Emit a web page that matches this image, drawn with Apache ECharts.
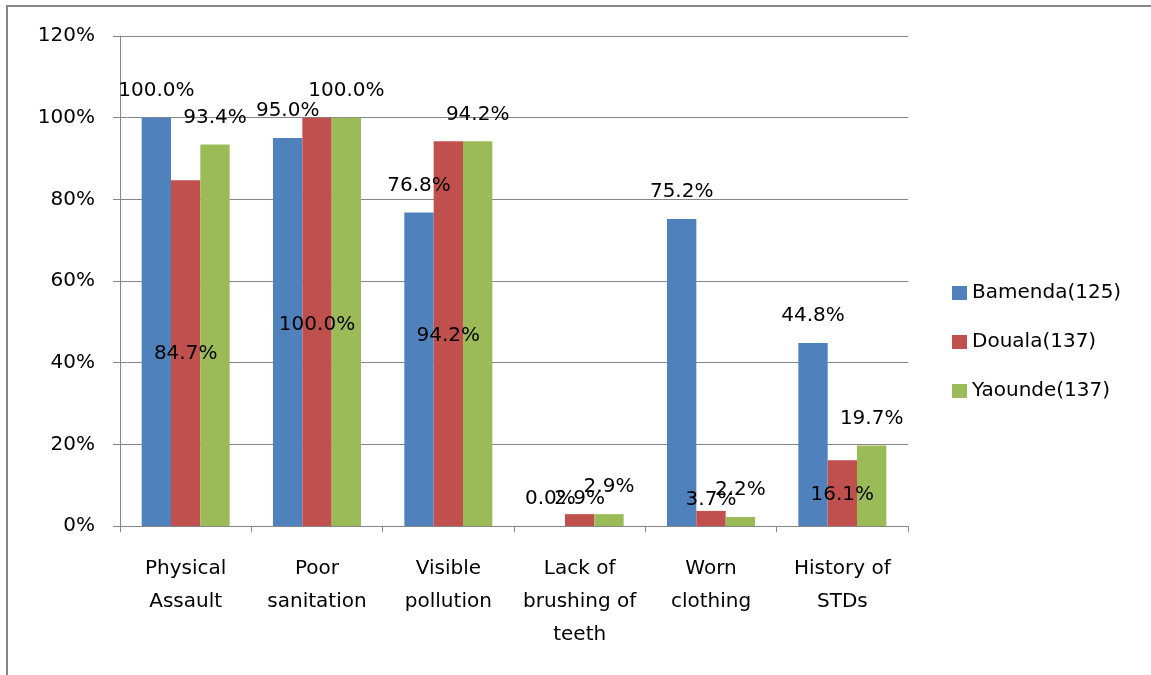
<!DOCTYPE html>
<html>
<head>
<meta charset="utf-8">
<script src="https://cdn.jsdelivr.net/npm/echarts@6/dist/echarts.min.js"></script>
<style>
html,body{margin:0;padding:0;background:#fff;}
#main{width:1151px;height:675px;}
</style>
</head>
<body>
<div id="main"></div>
<script>
var categories = ['Physical\nAssault', 'Poor\nsanitation', 'Visible\npollution', 'Lack of\nbrushing of\nteeth', 'Worn\nclothing', 'History of\nSTDs'];
var bamenda = [100.0, 95.0, 76.8, 0.0, 75.2, 44.8];
var douala = [84.7, 100.0, 94.2, 2.9, 3.7, 16.1];
var yaounde = [93.4, 100.0, 94.2, 2.9, 2.2, 19.7];
var seriesNames = ['Bamenda(125)', 'Douala(137)', 'Yaounde(137)'];
var yTicks = [0, 20, 40, 60, 80, 100, 120];
// the Douala labels sit lower than the bar tops in the original
var doualaLabelShift = [201, 234, 221, 12, 16, 62];

var mychart = echarts.init(document.getElementById('main'));
var font = 'DejaVu Sans';
var gridColor = '#868686';

function labelOf(shift) {
    return {
        show: true,
        position: 'top',
        distance: 17,
        color: '#000',
        fontFamily: font,
        fontSize: 20,
        lineHeight: 20,
        offset: [0, shift || 0],
        formatter: function (p) { return p.value.toFixed(1) + '%'; }
    };
}

var option = {
    animation: false,
    backgroundColor: '#fff',
    textStyle: {fontFamily: font},
    grid: {left: 120, right: 243, top: 36, bottom: 149},
    legend: {
        orient: 'vertical',
        left: 952,
        top: 283,
        padding: 0,
        itemWidth: 15,
        itemHeight: 14,
        itemGap: 29,
        icon: 'rect',
        data: seriesNames,
        textStyle: {fontFamily: font, fontSize: 20, color: '#000'}
    },
    xAxis: {
        type: 'category',
        data: categories,
        axisLine: {lineStyle: {color: gridColor, width: 1}},
        axisTick: {show: true, length: 6, lineStyle: {color: gridColor}},
        axisLabel: {
            interval: 0,
            margin: 26,
            color: '#000',
            fontFamily: font,
            fontSize: 20,
            lineHeight: 33,
            align: 'center'
        }
    },
    yAxis: {
        type: 'value',
        min: yTicks[0],
        max: yTicks[yTicks.length - 1],
        interval: 20,
        axisLine: {show: true, lineStyle: {color: gridColor, width: 1}},
        axisTick: {show: true, length: 7, lineStyle: {color: gridColor}},
        splitLine: {lineStyle: {color: gridColor, width: 1}},
        axisLabel: {
            margin: 25,
            color: '#000',
            fontFamily: font,
            fontSize: 20,
            formatter: '{value}%'
        }
    },
    graphic: [{
        type: 'rect',
        shape: {x: 7, y: 6, width: 1200, height: 720},
        style: {fill: 'none', stroke: gridColor, lineWidth: 2},
        silent: true
    }],
    series: [{
        name: seriesNames[0],
        type: 'bar',
        barGap: '0%',
        barCategoryGap: '33%',
        itemStyle: {color: '#4F81BD'},
        label: labelOf(0),
        data: bamenda
    }, {
        name: seriesNames[1],
        type: 'bar',
        barGap: '0%',
        barCategoryGap: '33%',
        itemStyle: {color: '#C0504D'},
        label: labelOf(0),
        data: douala.map(function (v, i) {
            return {value: v, label: {offset: [0, doualaLabelShift[i]]}};
        })
    }, {
        name: seriesNames[2],
        type: 'bar',
        barGap: '0%',
        barCategoryGap: '33%',
        itemStyle: {color: '#9BBB59'},
        label: labelOf(0),
        data: yaounde
    }]
};
mychart.setOption(option);
</script>
</body>
</html>
